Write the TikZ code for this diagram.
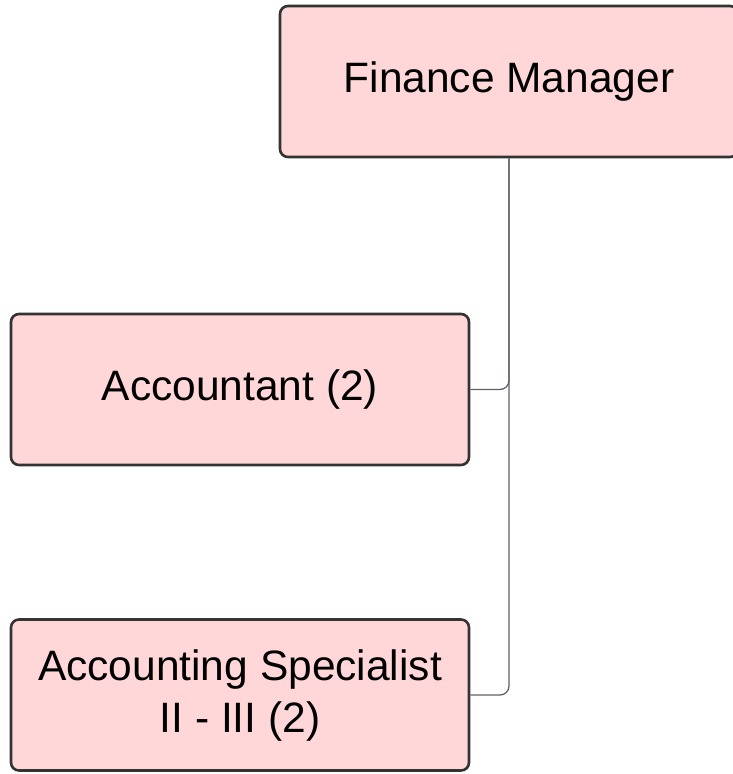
\documentclass[tikz,border=0pt]{standalone}
\usepackage{fontspec}
\setmainfont{Liberation Sans}
\usepackage{xcolor}

\definecolor{boxfill}{HTML}{FFD7D8}
\definecolor{boxline}{HTML}{333333}
\definecolor{linkline}{HTML}{5E6168}

\begin{document}
\begin{tikzpicture}[x=1pt, y=-1pt,
    rolebox/.style={draw=boxline, fill=boxfill, line width=2.6pt, rounded corners=8pt,
        minimum width=458pt, minimum height=151pt, align=center,
        font=\fontsize{42.5}{52}\selectfont, inner sep=0pt},
    link/.style={draw=linkline, line width=1.3pt, rounded corners=9pt}]
    % Page frame
    \useasboundingbox (0, 0) rectangle (733, 774);

    % Boxes
    \node[rolebox] (manager) at (509, 81.5) {Finance Manager};
    \node[rolebox] (accountant) at (240, 389.5) {Accountant (2)};
    \node[rolebox] (specialist) at (240, 695) {Accounting Specialist\\II - III (2)};

    % Links
    \draw[link] (manager.south) |- (accountant.east);
    \draw[link] (manager.south) |- (specialist.east);

\end{tikzpicture}
\end{document}
